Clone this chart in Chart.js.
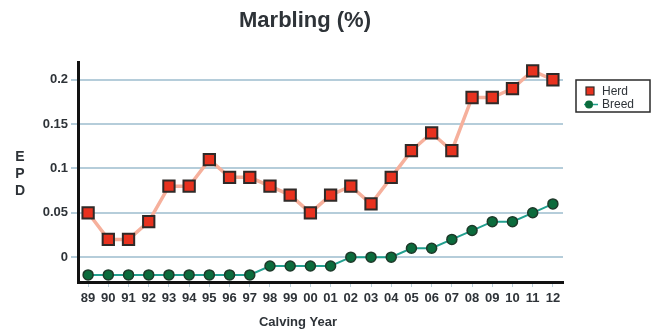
<!DOCTYPE html>
<html>
<head>
<meta charset="utf-8">
<script src="https://cdn.jsdelivr.net/npm/chart.js@4/dist/chart.umd.min.js"></script>
<style>
  html, body { margin: 0; padding: 0; background: #fff; }
  #wrap { width: 668px; height: 335px; position: relative; }
</style>
</head>
<body>
<div id="wrap"><canvas id="c" width="668" height="335"></canvas></div>
<script>
// Calving years (two-digit labels)
const years = ['89','90','91','92','93','94','95','96','97','98','99','00',
               '01','02','03','04','05','06','07','08','09','10','11','12'];

// Marbling EPD, herd average by calving year
const herd = [0.05, 0.02, 0.02, 0.04, 0.08, 0.08, 0.11, 0.09, 0.09, 0.08, 0.07, 0.05,
              0.07, 0.08, 0.06, 0.09, 0.12, 0.14, 0.12, 0.18, 0.18, 0.19, 0.21, 0.20];

// Marbling EPD, breed average by calving year
const breed = [-0.02, -0.02, -0.02, -0.02, -0.02, -0.02, -0.02, -0.02, -0.02, -0.01, -0.01, -0.01,
               -0.01, 0.00, 0.00, 0.00, 0.01, 0.01, 0.02, 0.03, 0.04, 0.04, 0.05, 0.06];

// Labelled EPD ticks
const yTicks = [0, 0.05, 0.1, 0.15, 0.2];

const chartTitle = 'Marbling (%)';
const xTitle = 'Calving Year';
const yTitle = ['E', 'P', 'D'];
const seriesNames = ['Herd', 'Breed'];

const HERD_FILL = '#e8321f';
const HERD_LINE = '#f6b09c';
const BREED_FILL = '#0b6b3c';
const BREED_LINE = '#23a08f';
const MARK_EDGE = '#2f2a28';
const TEXT = '#2e3338';

// Title, stacked y-axis label, x-axis title and boxed legend
const decorations = {
  id: 'decorations',
  afterDraw(chart) {
    const ctx = chart.ctx;
    ctx.save();
    ctx.fillStyle = TEXT;
    ctx.textBaseline = 'middle';
    ctx.textAlign = 'center';

    ctx.font = 'bold 22px "Liberation Sans", Arial, sans-serif';
    ctx.fillText(chartTitle, 305, 21);

    ctx.font = 'bold 14px "Liberation Sans", Arial, sans-serif';
    yTitle.forEach((ch, i) => ctx.fillText(ch, 20, 157 + i * 17));

    ctx.font = 'bold 13px "Liberation Sans", Arial, sans-serif';
    ctx.fillText(xTitle, 298, 322);

    // legend box
    const bx = 576, by = 80, bw = 74, bh = 32;
    ctx.fillStyle = '#fff';
    ctx.fillRect(bx, by, bw, bh);
    ctx.strokeStyle = '#2a2a2a';
    ctx.lineWidth = 1.5;
    ctx.strokeRect(bx, by, bw, bh);

    const ds = chart.data.datasets;
    ctx.textAlign = 'left';
    ctx.font = '12px "Liberation Sans", Arial, sans-serif';
    // Herd entry
    ctx.fillStyle = ds[0].pointBackgroundColor;
    ctx.strokeStyle = MARK_EDGE;
    ctx.lineWidth = 1.2;
    ctx.fillRect(586, 87, 8, 8);
    ctx.strokeRect(586, 87, 8, 8);
    ctx.fillStyle = TEXT;
    ctx.fillText(ds[0].label, 602, 91.5);
    // Breed entry
    ctx.strokeStyle = BREED_LINE;
    ctx.lineWidth = 1.5;
    ctx.beginPath(); ctx.moveTo(584, 104.5); ctx.lineTo(598, 104.5); ctx.stroke();
    ctx.fillStyle = ds[1].pointBackgroundColor;
    ctx.beginPath(); ctx.arc(589, 104.5, 4, 0, Math.PI * 2); ctx.fill();
    ctx.fillStyle = TEXT;
    ctx.fillText(ds[1].label, 602, 105);

    ctx.restore();
  }
};

new Chart(document.getElementById('c'), {
  type: 'line',
  data: {
    labels: years,
    datasets: [
      {
        label: seriesNames[0],
        data: herd,
        borderColor: HERD_LINE,
        borderWidth: 3.5,
        pointStyle: 'rect',
        pointRadius: 8,
        pointBackgroundColor: HERD_FILL,
        pointBorderColor: MARK_EDGE,
        pointBorderWidth: 2,
        tension: 0,
        order: 1
      },
      {
        label: seriesNames[1],
        data: breed,
        borderColor: BREED_LINE,
        borderWidth: 2,
        pointStyle: 'circle',
        pointRadius: 5,
        pointBackgroundColor: BREED_FILL,
        pointBorderColor: '#1d3a2a',
        pointBorderWidth: 1.5,
        tension: 0,
        order: 2
      }
    ]
  },
  options: {
    responsive: false,
    animation: false,
    events: [],
    layout: { padding: { left: 0, top: 62, right: 105, bottom: 0 } },
    plugins: {
      legend: { display: false },
      title: { display: false },
      tooltip: { enabled: false }
    },
    scales: {
      x: {
        type: 'category',
        offset: true,
        grid: {
          offset: false,
          drawOnChartArea: false,
          drawTicks: true,
          tickLength: 5,
          color: '#b9cfdb',
          lineWidth: 1
        },
        border: { display: true, color: '#111', width: 3 },
        ticks: {
          color: TEXT,
          padding: 4,
          maxRotation: 0,
          autoSkip: false,
          font: { family: '"Liberation Sans", Arial, sans-serif', size: 13, weight: 'bold' }
        },
        afterFit(scale) { scale.height = 53; }
      },
      y: {
        min: -0.028,
        max: 0.22,
        afterBuildTicks(scale) { scale.ticks = yTicks.map(v => ({ value: v })); },
        grid: {
          color: '#b5cdda',
          lineWidth: 2,
          drawTicks: true,
          tickLength: 7
        },
        border: { display: true, color: '#111', width: 3 },
        ticks: {
          color: TEXT,
          padding: 3,
          font: { family: '"Liberation Sans", Arial, sans-serif', size: 13, weight: 'bold' },
          callback: v => String(v)
        },
        afterFit(scale) { scale.width = 78; }
      }
    }
  },
  plugins: [decorations]
});
</script>
</body>
</html>
